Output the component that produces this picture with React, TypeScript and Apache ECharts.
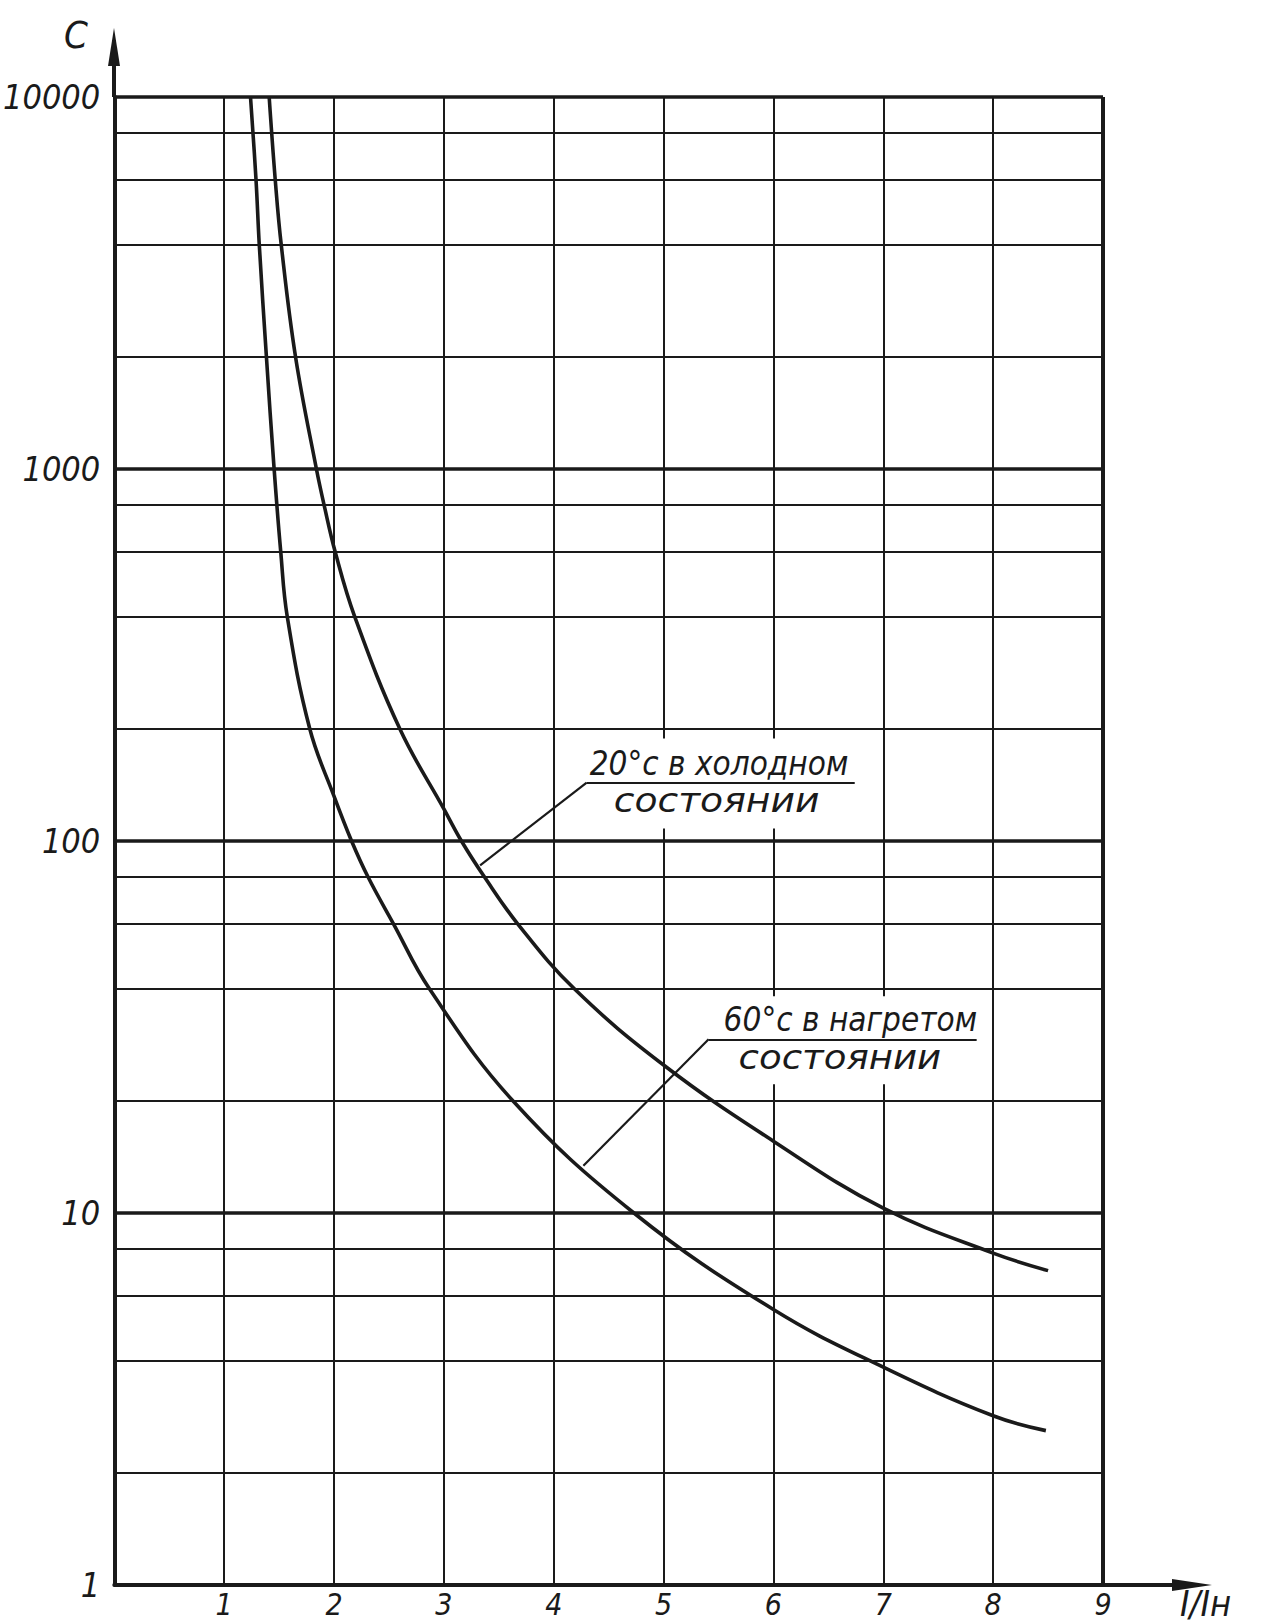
import { useEffect, useRef } from "react";
import * as echarts from "echarts";

// ---- data ----
const yMinorLines = [2, 4, 6, 8, 20, 40, 60, 80, 200, 400, 600, 800, 2000, 4000, 6000, 8000];

// 20°C, cold state (upper curve)
const coldX = [1.41, 1.465, 1.52, 1.65, 1.84, 1.91, 2.01, 2.19, 2.6, 3.0, 3.16, 3.37, 3.67, 4.19, 5.0, 6.0, 7.0, 8.0, 8.5];
const coldC = [10000, 6000, 4000, 2000, 1000, 800, 600, 400, 200, 122, 100, 80, 60, 40, 25, 15.6, 10.3, 7.8, 7.0];

// 60°C, hot state (lower curve)
const hotX = [1.24, 1.29, 1.32, 1.385, 1.455, 1.515, 1.575, 1.78, 2.0, 2.16, 2.31, 2.54, 2.87, 3.63, 4.73, 6.0, 7.0, 8.0, 8.48];
const hotC = [10000, 6000, 4000, 2000, 1000, 600, 400, 200, 132, 100, 80, 60, 40, 20, 10, 5.5, 3.85, 2.85, 2.6];

const coldLabel = ["20°c в холодном", "состоянии"];
const hotLabel = ["60°c в нагретом", "состоянии"];

// leader lines: point on curve, elbow, end of underline
const coldLeader = [[3.33, 86], [4.3, 143.6], [6.74, 143.6]];
const hotLeader = [[4.27, 13.4], [5.41, 29.3], [7.85, 29.3]];

const yAxisName = "C";
const xAxisName = "I/Iн";

// ---- layout ----
const W = 1263;
const H = 1624;
const GRID = { left: 114, top: 97, width: 989, height: 1488 };
const INK = "#1a1a1a";
const HAND = '"Liberation Sans Narrow", "DejaVu Sans Condensed", "Liberation Sans", sans-serif';
const HAND2 = '"DejaVu Sans Condensed", "DejaVu Sans", sans-serif';

const zip = (xs: number[], ys: number[]) => xs.map((x, i) => [x, ys[i]]);

export default function App() {
  const ref = useRef<HTMLDivElement>(null);

  useEffect(() => {
    if (!ref.current) return;
    const chart = echarts.init(ref.current, undefined, { renderer: "svg" });

    const leaderLines = (pts: number[][]) => [
      [{ coord: pts[0] }, { coord: pts[1] }],
      [{ coord: pts[1] }, { coord: pts[2] }],
    ];

    const curve = (name: string, xs: number[], ys: number[], leader: number[][]) => ({
      name,
      type: "line",
      data: zip(xs, ys),
      showSymbol: false,
      smooth: 0.4,
      z: 3,
      lineStyle: { color: INK, width: 3.6 },
      markLine: {
        silent: true,
        z: 6,
        symbol: "none",
        label: { show: false },
        lineStyle: { color: INK, width: 2.2, type: "solid" },
        data: leaderLines(leader),
      },
    });

    chart.setOption({
      animation: false,
      backgroundColor: "#ffffff",
      grid: { ...GRID, containLabel: false },
      xAxis: {
        type: "value",
        min: 0,
        max: 9,
        interval: 1,
        axisLine: { show: true, lineStyle: { color: INK, width: 4 } },
        axisTick: { show: false },
        axisLabel: {
          color: INK,
          fontSize: 30,
          lineHeight: 30,
          fontStyle: "italic",
          fontFamily: HAND,
          margin: 4,
          formatter: (v: number) => (v === 0 ? "" : String(v)),
        },
        splitLine: { show: true, lineStyle: { color: INK, width: 2 } },
      },
      yAxis: {
        type: "log",
        logBase: 10,
        min: 1,
        max: 10000,
        axisLine: { show: true, lineStyle: { color: INK, width: 4 } },
        axisTick: { show: false },
        axisLabel: {
          color: INK,
          fontSize: 34,
          fontStyle: "italic",
          fontFamily: HAND,
          margin: 14,
          formatter: (v: number) => String(v),
        },
        splitLine: { show: true, lineStyle: { color: INK, width: 3.5 } },
      },
      series: [
        {
          type: "line",
          data: [],
          silent: true,
          markLine: {
            silent: true,
            z: 0,
            symbol: "none",
            label: { show: false },
            lineStyle: { color: INK, width: 2, type: "solid" },
            emphasis: { disabled: true },
            data: [
              ...yMinorLines.map((v) => ({ yAxis: v })),
              { xAxis: 9, lineStyle: { color: INK, width: 4, type: "solid" } },
            ],
          },
        },
        curve(coldLabel.join(" "), coldX, coldC, coldLeader),
        curve(hotLabel.join(" "), hotX, hotC, hotLeader),
      ],
    });

    const px = (p: number[]) => chart.convertToPixel({ gridIndex: 0 }, p) as number[];
    const ce = px(coldLeader[1]);
    const he = px(hotLeader[1]);
    const x0 = GRID.left;
    const yBottom = GRID.top + GRID.height;
    const xRight = GRID.left + GRID.width;

    const textStyle = (text: string, size: number, align = "left", vAlign = "top") => ({
      text,
      fill: INK,
      fontSize: size,
      fontStyle: "italic",
      fontFamily: HAND2,
      align,
      verticalAlign: vAlign,
    });

    chart.setOption({
      graphic: [
        // white label backgrounds interrupting the grid
        { type: "rect", z: 1, silent: true, shape: { x: ce[0] - 2, y: ce[1] - 44, width: 274, height: 90 }, style: { fill: "#ffffff" } },
        { type: "rect", z: 1, silent: true, shape: { x: he[0] - 7, y: he[1] - 43, width: 285, height: 88 }, style: { fill: "#ffffff" } },
        // label texts
        { type: "text", z: 10, x: ce[0] + 3, y: ce[1] - 3, style: textStyle(coldLabel[0], 33, "left", "bottom") },
        { type: "text", z: 10, x: ce[0] + 27, y: ce[1] + 2, scaleX: 1.27, style: textStyle(coldLabel[1], 33) },
        { type: "text", z: 10, x: he[0] + 15, y: he[1] - 3, style: textStyle(hotLabel[0], 33, "left", "bottom") },
        { type: "text", z: 10, x: he[0] + 30, y: he[1] + 2, scaleX: 1.25, style: textStyle(hotLabel[1], 33) },
        // y axis arrow
        { type: "line", z: 10, silent: true, shape: { x1: x0, y1: GRID.top, x2: x0, y2: 40 }, style: { stroke: INK, lineWidth: 4 } },
        { type: "polygon", z: 10, silent: true, shape: { points: [[x0, 28], [x0 - 6, 66], [x0 + 6, 66]] }, style: { fill: INK } },
        // x axis arrow
        { type: "line", z: 10, silent: true, shape: { x1: xRight, y1: yBottom, x2: 1190, y2: yBottom }, style: { stroke: INK, lineWidth: 4 } },
        { type: "polygon", z: 10, silent: true, shape: { points: [[1212, yBottom], [1172, yBottom - 6], [1172, yBottom + 6]] }, style: { fill: INK } },
        // axis names
        { type: "text", z: 10, x: 64, y: 16, style: textStyle(yAxisName, 38) },
        { type: "text", z: 10, x: 1180, y: 1621, style: textStyle(xAxisName, 36, "left", "bottom") },
      ],
    });

    return () => chart.dispose();
  }, []);

  return (
    <div
      ref={ref}
      style={{ position: "absolute", left: 0, top: 0, width: W, height: H, background: "#fff" }}
    />
  );
}
